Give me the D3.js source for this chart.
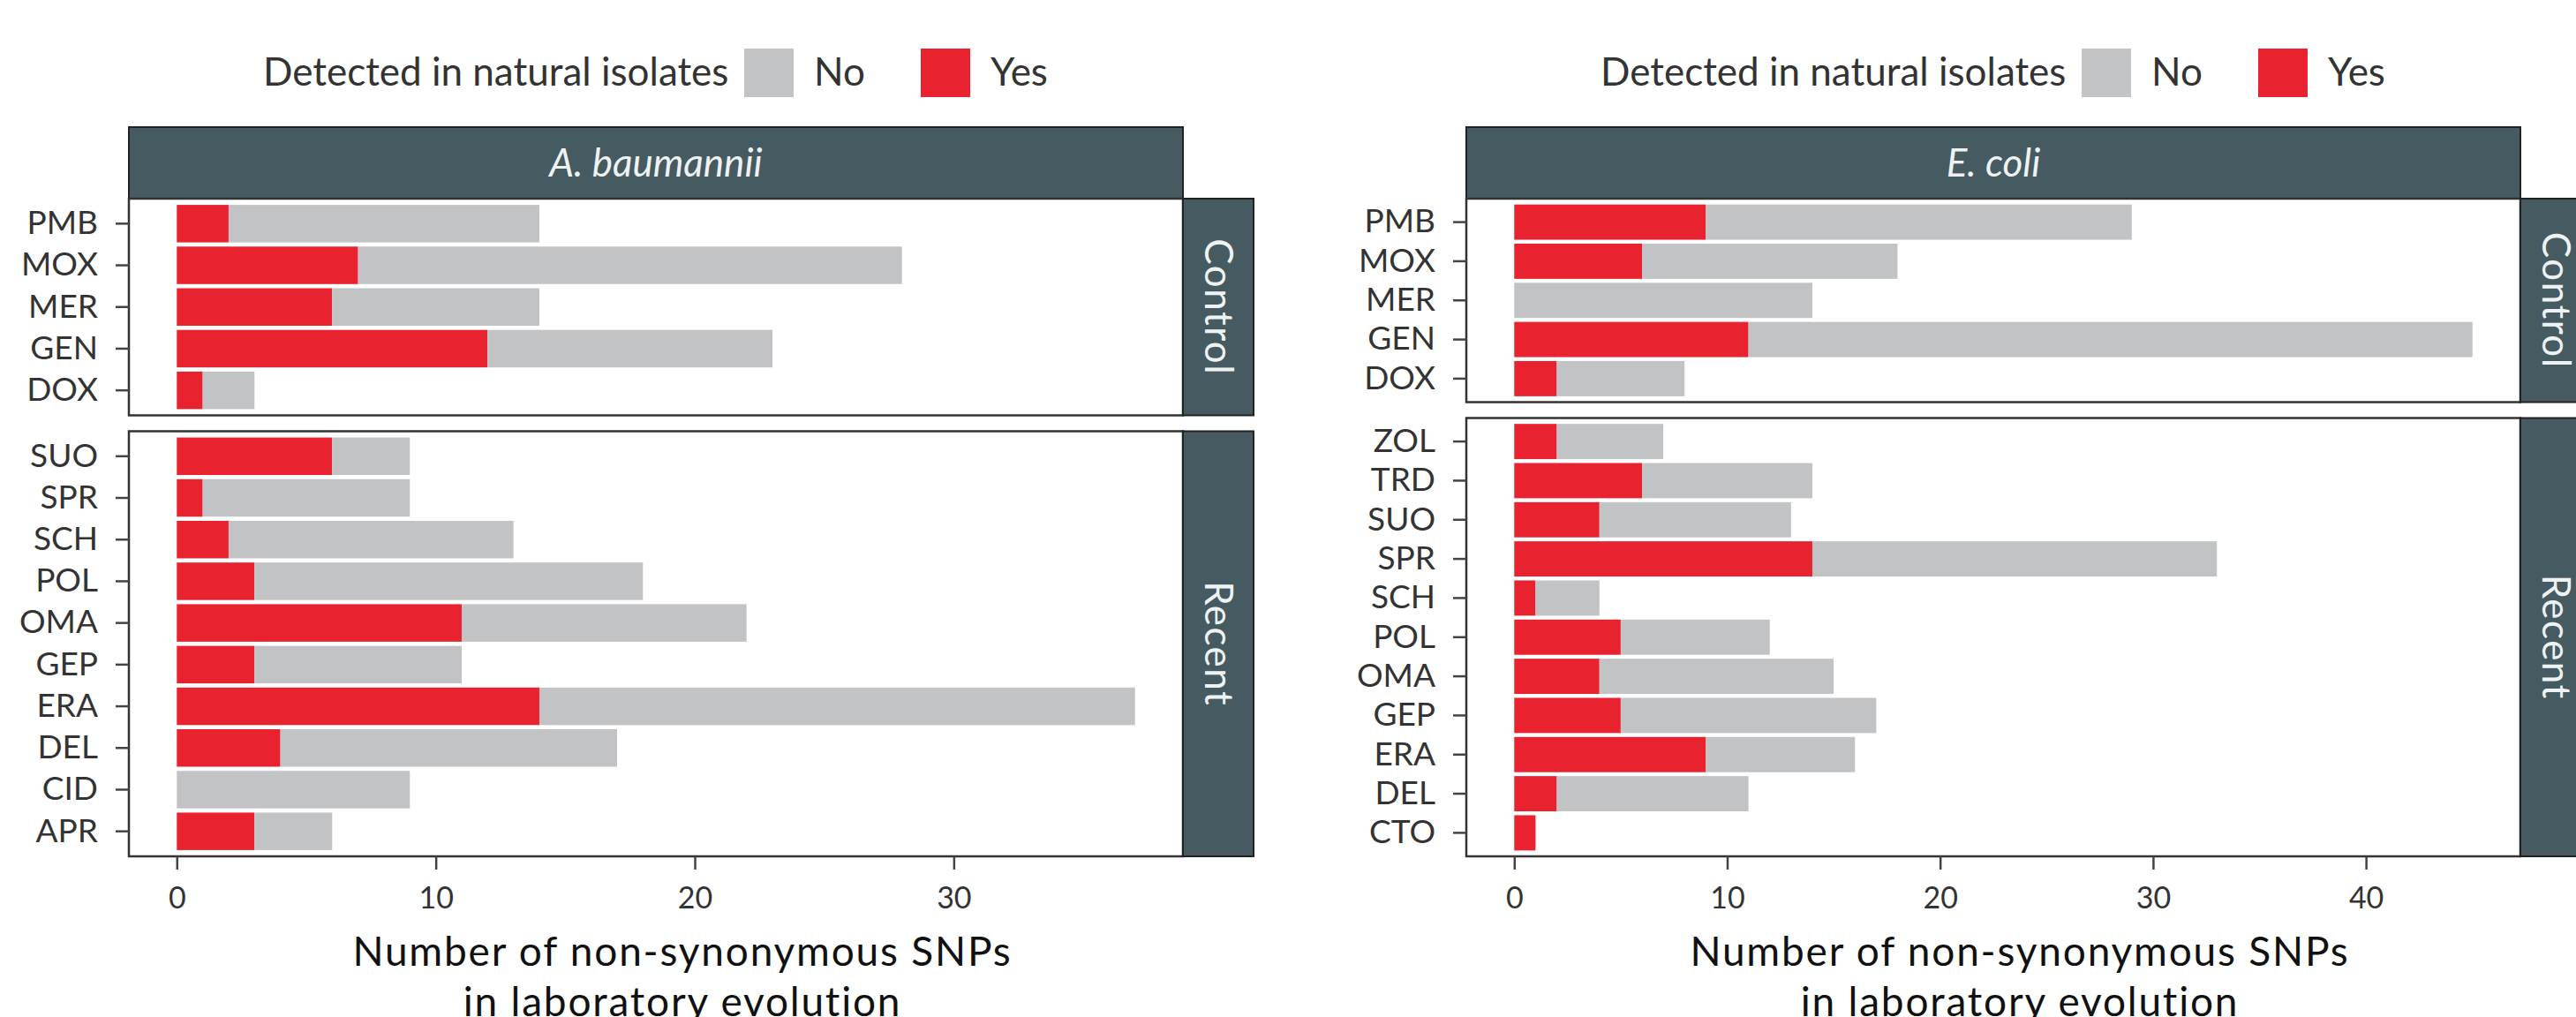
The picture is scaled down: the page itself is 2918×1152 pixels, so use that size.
<!DOCTYPE html>
<html>
<head>
<meta charset="utf-8">
<script src="https://cdn.jsdelivr.net/npm/d3@7"></script>
<style>
  html, body { margin: 0; padding: 0; background: #fff; }
  svg { display: block; font-family: Lato, "Noto Sans", sans-serif; }
</style>
</head>
<body>
<svg id="chart" width="2918" height="1152"></svg>
<script>
// ---------------- DATA ----------------
const legendTitle = "Detected in natural isolates";
const legendLabels = ["No", "Yes"];
const xTitleLines = ["Number of non-synonymous SNPs", "in laboratory evolution"];
const groupNames = ["Control", "Recent"];

const abTitle = "A. baumannii";
const abControlCats = ["PMB", "MOX", "MER", "GEN", "DOX"];
const abControlYes  = [2, 7, 6, 12, 1];
const abControlNo   = [12, 21, 8, 11, 2];
const abRecentCats  = ["SUO", "SPR", "SCH", "POL", "OMA", "GEP", "ERA", "DEL", "CID", "APR"];
const abRecentYes   = [6, 1, 2, 3, 11, 3, 14, 4, 0, 3];
const abRecentNo    = [3, 8, 11, 15, 11, 8, 23, 13, 9, 3];
const abTicks       = [0, 10, 20, 30];

const ecTitle = "E. coli";
const ecControlCats = ["PMB", "MOX", "MER", "GEN", "DOX"];
const ecControlYes  = [9, 6, 0, 11, 2];
const ecControlNo   = [20, 12, 14, 34, 6];
const ecRecentCats  = ["ZOL", "TRD", "SUO", "SPR", "SCH", "POL", "OMA", "GEP", "ERA", "DEL", "CTO"];
const ecRecentYes   = [2, 6, 4, 14, 1, 5, 4, 5, 9, 2, 1];
const ecRecentNo    = [5, 8, 9, 19, 3, 7, 11, 12, 7, 9, 0];
const ecTicks       = [0, 10, 20, 30, 40];

// ---------------- STYLE ----------------
const COL_YES = "#e8232f";
const COL_NO = "#c1c3c5";
const COL_STRIP = "#455a61";
const COL_TEXT = "#333333";
const COL_STRIPTEXT = "#eef2f3";

const svg = d3.select("#chart");

function drawFacet(opt) {
  const g = svg.append("g");
  const groups = opt.groups;
  const panelTop = 225, panelBottom = 970, gap = 18;
  const units = groups.map(gr => gr.cats.length + 0.2);
  const unitPx = (panelBottom - panelTop - gap * (groups.length - 1)) / d3.sum(units);

  const maxTotal = d3.max(groups, gr => d3.max(gr.yes.map((v, i) => v + gr.no[i])));
  const x = d3.scaleLinear()
    .domain([-0.05 * maxTotal, maxTotal * 1.05])
    .range([opt.left, opt.right]);

  // legend
  const lg = g.append("g").attr("transform", `translate(${opt.left + 152},0)`);
  lg.append("text").attr("x", 0).attr("y", 97)
    .attr("font-size", 44).attr("fill", COL_TEXT).text(legendTitle);
  const keys = [COL_NO, COL_YES];
  const keyX = [545, 745];
  keys.forEach((c, i) => {
    lg.append("rect").attr("x", keyX[i]).attr("y", 55).attr("width", 56).attr("height", 55).attr("fill", c);
    lg.append("text").attr("x", keyX[i] + 79).attr("y", 97).attr("font-size", 44)
      .attr("fill", COL_TEXT).text(legendLabels[i]);
  });

  // header strip
  g.append("rect").attr("x", opt.left).attr("y", 144).attr("width", opt.right - opt.left).attr("height", 81)
    .attr("fill", COL_STRIP).attr("stroke", "#222").attr("stroke-width", 2);
  g.append("text").attr("x", (opt.left + opt.right) / 2).attr("y", 200)
    .attr("text-anchor", "middle").attr("font-size", 44).attr("font-style", "italic")
    .attr("fill", COL_STRIPTEXT).text(opt.title);

  let y0 = panelTop;
  groups.forEach((gr, gi) => {
    const h = units[gi] * unitPx;
    const y = d3.scaleBand().domain(gr.cats).range([y0, y0 + h]).paddingInner(0.1).paddingOuter(0.15);

    g.append("rect").attr("x", opt.left).attr("y", y0).attr("width", opt.right - opt.left).attr("height", h)
      .attr("fill", "#fff");

    // bars: Yes (red) first, then No (grey)
    const rows = gr.cats.map((c, i) => ({ cat: c, yes: gr.yes[i], no: gr.no[i] }));
    g.append("g").selectAll("rect").data(rows).join("rect")
      .attr("x", d => x(0)).attr("y", d => y(d.cat))
      .attr("width", d => x(d.yes) - x(0)).attr("height", y.bandwidth())
      .attr("fill", COL_YES);
    g.append("g").selectAll("rect").data(rows).join("rect")
      .attr("x", d => x(d.yes)).attr("y", d => y(d.cat))
      .attr("width", d => x(d.yes + d.no) - x(d.yes)).attr("height", y.bandwidth())
      .attr("fill", COL_NO);

    // panel border
    g.append("rect").attr("x", opt.left).attr("y", y0).attr("width", opt.right - opt.left).attr("height", h)
      .attr("fill", "none").attr("stroke", "#333").attr("stroke-width", 2.5);

    // y axis
    const ya = g.append("g").attr("transform", `translate(${opt.left},0)`)
      .call(d3.axisLeft(y).tickSize(15).tickPadding(20));
    ya.select(".domain").remove();
    ya.selectAll(".tick line").attr("stroke", "#444").attr("stroke-width", 2.5);
    ya.selectAll(".tick text").attr("font-size", 37).attr("fill", COL_TEXT)
      .attr("font-family", "Lato, 'Noto Sans', sans-serif");

    // side strip
    g.append("rect").attr("x", opt.right).attr("y", y0).attr("width", 80).attr("height", h)
      .attr("fill", COL_STRIP).attr("stroke", "#222").attr("stroke-width", 2);
    g.append("text")
      .attr("transform", `translate(${opt.right + 40},${y0 + h / 2}) rotate(90)`)
      .attr("text-anchor", "middle").attr("dy", "0.35em").attr("font-size", 44)
      .attr("letter-spacing", 1.5)
      .attr("fill", COL_STRIPTEXT).text(groupNames[gi]);

    y0 += h + gap;
  });

  // x axis
  const xa = g.append("g").attr("transform", `translate(0,${panelBottom})`)
    .call(d3.axisBottom(x).tickValues(opt.ticks).tickSize(15).tickPadding(20).tickFormat(d3.format("d")));
  xa.select(".domain").remove();
  xa.selectAll(".tick line").attr("stroke", "#444").attr("stroke-width", 2.5);
  xa.selectAll(".tick text").attr("font-size", 34).attr("fill", COL_TEXT)
    .attr("font-family", "Lato, 'Noto Sans', sans-serif");

  // x title
  xTitleLines.forEach((t, i) => {
    g.append("text").attr("x", opt.left + 627).attr("y", 1094 + i * 57)
      .attr("text-anchor", "middle").attr("font-size", 46).attr("letter-spacing", 1.8)
      .attr("fill", "#111").text(t);
  });
}

drawFacet({
  title: abTitle, left: 146, right: 1340, ticks: abTicks,
  groups: [
    { cats: abControlCats, yes: abControlYes, no: abControlNo },
    { cats: abRecentCats, yes: abRecentYes, no: abRecentNo }
  ]
});
drawFacet({
  title: ecTitle, left: 1661, right: 2855, ticks: ecTicks,
  groups: [
    { cats: ecControlCats, yes: ecControlYes, no: ecControlNo },
    { cats: ecRecentCats, yes: ecRecentYes, no: ecRecentNo }
  ]
});
</script>
</body>
</html>
